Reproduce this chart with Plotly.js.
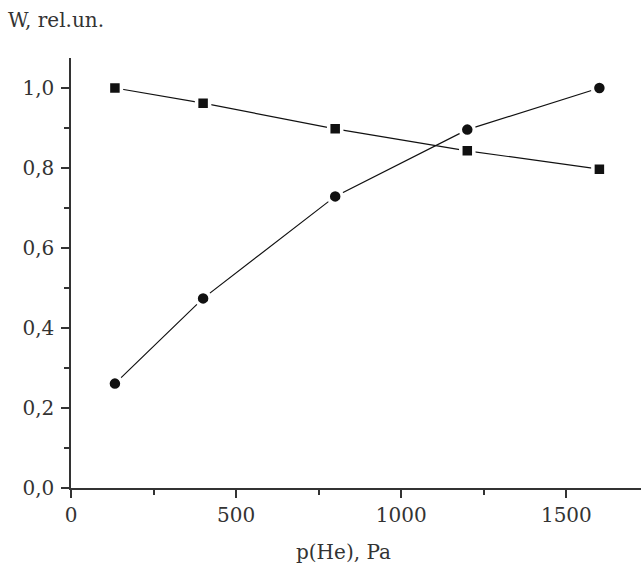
<!DOCTYPE html>
<html>
<head>
<meta charset="utf-8">
<script src="https://cdn.plot.ly/plotly-3.0.1.min.js"></script>
<style>html,body{margin:0;padding:0;background:#fff;}#chart{width:643px;height:567px;}</style>
</head>
<body>
<div id="chart"></div>
<script>
var pressure = [133, 400, 800, 1200, 1600];
var squares = [1.0, 0.962, 0.898, 0.843, 0.797];
var circles = [0.261, 0.474, 0.729, 0.896, 1.0];
var xTitle = 'p(He), Pa';
var yTitle = 'W, rel.un.';

var font = {family: '"DejaVu Serif", "Liberation Serif", serif', size: 20, color: '#333'};

var traces = [
  {x: pressure, y: squares, mode: 'lines+markers', line: {color: '#111', width: 1.2},
   marker: {symbol: 'square', size: 13, color: '#111', line: {color: '#fff', width: 3.5}}},
  {x: pressure, y: circles, mode: 'lines+markers', line: {color: '#111', width: 1.2},
   marker: {symbol: 'circle', size: 14, color: '#111', line: {color: '#fff', width: 3.5}}}
];

var layout = {
  width: 643, height: 567,
  margin: {l: 71, r: 2, t: 58, b: 79},
  paper_bgcolor: '#fff', plot_bgcolor: '#fff',
  showlegend: false,
  separators: ', ',
  font: font,
  xaxis: {
    range: [0, 1726], showgrid: false, zeroline: false,
    showline: true, linecolor: '#333', linewidth: 1.5,
    ticks: 'outside', ticklen: 8, tickwidth: 1.5, tickcolor: '#333',
    tickvals: [0, 500, 1000, 1500], ticktext: ['0', '500', '1000', '1500'],
    minor: {tickvals: [250, 750, 1250], ticks: 'outside', ticklen: 5, tickwidth: 1.5, tickcolor: '#333'},
    tickfont: font
  },
  yaxis: {
    range: [0, 1.075], showgrid: false, zeroline: false,
    showline: true, linecolor: '#333', linewidth: 1.5,
    ticks: 'outside', ticklen: 8, tickwidth: 1.5, tickcolor: '#333',
    tickvals: [0, 0.2, 0.4, 0.6, 0.8, 1.0], tickformat: '.1f',
    ticklabelstandoff: 3,
    minor: {tickvals: [0.1, 0.3, 0.5, 0.7, 0.9], ticks: 'outside', ticklen: 5, tickwidth: 1.5, tickcolor: '#333'},
    tickfont: font
  },
  annotations: [
    {text: xTitle, xref: 'paper', yref: 'paper', x: (343 - 71) / 570, y: -0.148,
     xanchor: 'center', yanchor: 'middle', showarrow: false, font: font},
    {text: yTitle, xref: 'paper', yref: 'paper', x: -71 / 570 + 6 / 570, y: 1 + 38 / 430,
     xanchor: 'left', yanchor: 'middle', showarrow: false, font: font}
  ]
};

Plotly.newPlot('chart', traces, layout, {displayModeBar: false});
</script>
</body>
</html>
